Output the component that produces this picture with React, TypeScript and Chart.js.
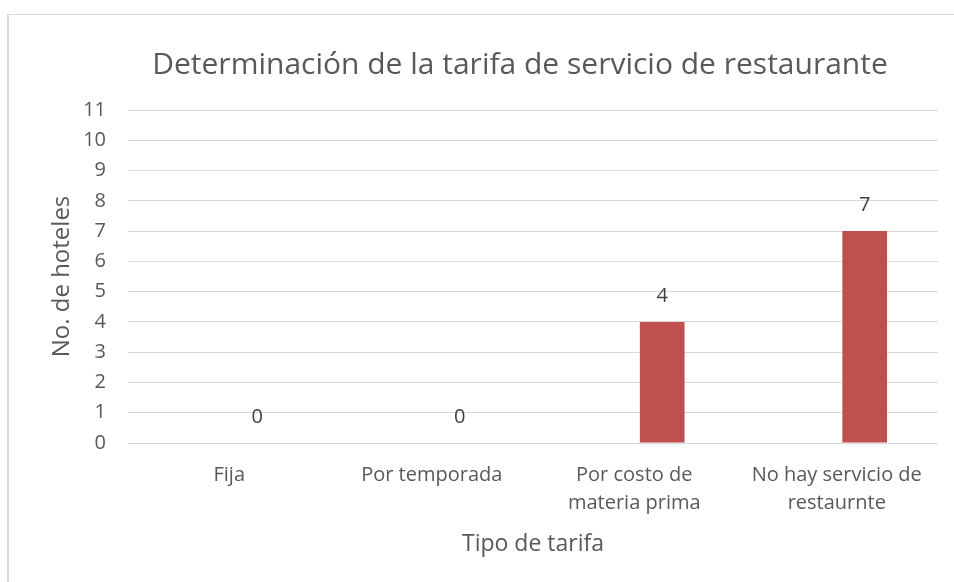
import React, { useEffect, useRef } from "react";
import { Chart, registerables } from "chart.js";

Chart.register(...registerables);

const TITLE = "Determinación de la tarifa de servicio de restaurante";
const X_TITLE = "Tipo de tarifa";
const Y_TITLE = "No. de hoteles";
const categories: string[][] = [
  ["Fija"],
  ["Por temporada"],
  ["Por costo de", "materia prima"],
  ["No hay servicio de", "restaurnte"],
];
const emptySeries: (number | null)[] = [null, null, null, null];
const hotelCounts: number[] = [0, 0, 4, 7];
const yMin = 0;
const yMax = 11;

const FONT = '"Open Sans", sans-serif';
const TEXT = "#595959";

const textPlugin = {
  id: "texts",
  afterDatasetsDraw(chart: any) {
    const ctx = chart.ctx;
    const area = chart.chartArea;
    ctx.save();
    // data labels
    const meta = chart.getDatasetMeta(1);
    ctx.fillStyle = "#404040";
    ctx.font = `20px ${FONT}`;
    ctx.textAlign = "center";
    ctx.textBaseline = "middle";
    meta.data.forEach((bar: any, i: number) => {
      const v = hotelCounts[i];
      ctx.fillText(String(v), bar.x, bar.y - 26);
    });
    // main title
    ctx.fillStyle = TEXT;
    ctx.font = `30px ${FONT}`;
    ctx.textBaseline = "alphabetic";
    ctx.fillText(TITLE, 520, 74);
    // x title
    ctx.font = `23px ${FONT}`;
    ctx.fillText(X_TITLE, (area.left + area.right) / 2, 551);
    // y title
    ctx.font = `24px ${FONT}`;
    ctx.translate(69, (area.top + area.bottom) / 2);
    ctx.rotate(-Math.PI / 2);
    ctx.fillText(Y_TITLE, 0, 0);
    ctx.restore();
  },
};

export default function App() {
  const ref = useRef<HTMLCanvasElement>(null);
  useEffect(() => {
    if (!ref.current) return;
    const chart = new Chart(ref.current, {
      type: "bar",
      data: {
        labels: categories,
        datasets: [
          {
            label: "Serie 1",
            data: emptySeries,
            backgroundColor: "#4F81BD",
          },
          {
            label: "No. de hoteles",
            data: hotelCounts,
            backgroundColor: "#C0504D",
          },
        ] as any,
      },
      options: {
        animation: false,
        responsive: false,
        maintainAspectRatio: false,
        datasets: { bar: { categoryPercentage: 0.552, barPercentage: 0.8 } } as any,
        layout: { padding: { top: 110, right: 16, left: 0, bottom: 0 } },
        plugins: {
          legend: { display: false },
          tooltip: { enabled: false },
          title: { display: false },
        },
        scales: {
          x: {
            grid: { display: false },
            border: { display: false },
            ticks: {
              color: TEXT,
              font: { family: FONT, size: 20, lineHeight: 1.4 },
              padding: 10,
              maxRotation: 0,
              autoSkip: false,
            },
            afterFit: (s: any) => {
              s.height = 139;
            },
          },
          y: {
            min: yMin,
            max: yMax,
            grid: { color: "#D9D9D9", lineWidth: 1, drawTicks: false },
            border: { display: false },
            ticks: {
              stepSize: 1,
              color: TEXT,
              font: { family: FONT, size: 20 },
              padding: 22,
            },
            afterFit: (s: any) => {
              s.width = 128;
            },
          },
        },
      },
      plugins: [textPlugin],
    });
    return () => chart.destroy();
  }, []);
  return (
    <div
      style={{
        position: "fixed",
        left: 0,
        top: 0,
        width: 954,
        height: 582,
        overflow: "hidden",
        background: "#fff",
      }}
    >
      <div
        style={{
          position: "absolute",
          left: 7,
          top: 14,
          width: 1000,
          height: 600,
          borderLeft: "2px solid #D9D9D9",
          borderTop: "1px solid #D9D9D9",
        }}
      />
      <canvas
        ref={ref}
        width={954}
        height={582}
        style={{ position: "absolute", left: 0, top: 0 }}
      />
    </div>
  );
}
